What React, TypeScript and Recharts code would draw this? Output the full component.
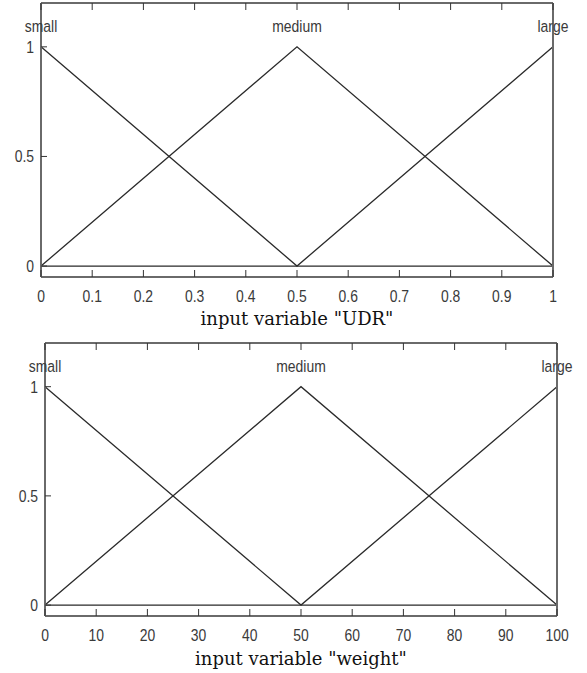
import React from 'react';
import { ComposedChart, Line, XAxis, YAxis } from 'recharts';

const udrX = [0, 0.5, 1];
const weightX = [0, 50, 100];
const small = [1, 0, 0];
const medium = [0, 1, 0];
const large = [0, 0, 1];
const mfNames = ['small', 'medium', 'large'];
const udrTicks = [0, 0.1, 0.2, 0.3, 0.4, 0.5, 0.6, 0.7, 0.8, 0.9, 1];
const weightTicks = [0, 10, 20, 30, 40, 50, 60, 70, 80, 90, 100];
const yTicks = [0, 0.5, 1];

const tickFont = '"Liberation Sans", Arial, sans-serif';
const tickColor = '#3a3a3a';
const frame = '#6a6a6a';

// narrow helvetica-like text, squeezed horizontally
const NarrowText = ({ x, y, anchor, children }: any) => (
  <text
    transform={`translate(${x},${y}) scale(0.82,1)`}
    textAnchor={anchor}
    fontSize={17}
    fontFamily={tickFont}
    fill={tickColor}
  >
    {children}
  </text>
);

const BottomTick = (props: any) => {
  const { x, y, payload } = props;
  return (
    <g>
      <line x1={x} x2={x} y1={y} y2={y - 7} stroke="#333" strokeWidth={1} />
      <NarrowText x={x} y={y + 25} anchor="middle">
        {String(payload.value)}
      </NarrowText>
    </g>
  );
};

const TopTick = (props: any) => {
  const { x, y } = props;
  return <line x1={x} x2={x} y1={y} y2={y + 7} stroke="#333" strokeWidth={1} />;
};

const LeftTick = (props: any) => {
  const { x, y, payload } = props;
  return (
    <g>
      <line x1={x} x2={x + 6} y1={y} y2={y} stroke="#333" strokeWidth={1} />
      <NarrowText x={x - 7} y={y + 6} anchor="end">
        {String(payload.value)}
      </NarrowText>
    </g>
  );
};

const RightTick = (props: any) => {
  const { x, y } = props;
  return <line x1={x} x2={x - 6} y1={y} y2={y} stroke="#333" strokeWidth={1} />;
};

const peakLabel = (name: string) => (props: any) => {
  const { x, y, value } = props;
  if (value !== 1) return <g />;
  return (
    <NarrowText x={x} y={y - 15} anchor="middle">
      {name}
    </NarrowText>
  );
};

interface PanelProps {
  xs: number[];
  ticks: number[];
  title: string;
  height: number;
  left: number;
  right: number;
  top: number;
  bottom: number;
  titleOffset: number;
}

const Panel = ({ xs, ticks, title, height, left, right, top, bottom, titleOffset }: PanelProps) => {
  const data = xs.map((x, i) => ({ x, small: small[i], medium: medium[i], large: large[i] }));
  const domain = [xs[0], xs[xs.length - 1]];
  return (
    <ComposedChart width={587} height={height} data={data} margin={{ top: 0, right: 0, left: 0, bottom: 0 }}>
      <XAxis
        dataKey="x"
        type="number"
        domain={domain}
        ticks={ticks}
        interval={0}
        height={bottom}
        tickSize={0}
        tickMargin={0}
        tickLine={false}
        tick={<BottomTick />}
        axisLine={{ stroke: frame, strokeWidth: 2 }}
        label={{
          value: title,
          position: 'insideBottom',
          offset: titleOffset,
          fontSize: 18,
          fontFamily: '"DejaVu Serif", "Liberation Serif", serif',
          fill: '#111',
        }}
      />
      <XAxis
        xAxisId="top"
        orientation="top"
        dataKey="x"
        type="number"
        domain={domain}
        ticks={ticks}
        interval={0}
        height={top}
        tickSize={0}
        tickMargin={0}
        tickLine={false}
        tick={<TopTick />}
        axisLine={{ stroke: frame, strokeWidth: 2 }}
      />
      <YAxis
        type="number"
        domain={[-0.05, 1.2]}
        ticks={yTicks}
        interval={0}
        width={left}
        tickSize={0}
        tickMargin={0}
        tickLine={false}
        tick={<LeftTick />}
        axisLine={{ stroke: frame, strokeWidth: 2 }}
      />
      <YAxis
        yAxisId="r"
        orientation="right"
        type="number"
        domain={[-0.05, 1.2]}
        ticks={yTicks}
        interval={0}
        width={right}
        tickSize={0}
        tickMargin={0}
        tickLine={false}
        tick={<RightTick />}
        axisLine={{ stroke: frame, strokeWidth: 2 }}
      />
      {mfNames.map((name) => (
        <Line
          key={name}
          dataKey={name}
          type="linear"
          stroke="#2a2a2a"
          strokeWidth={1.3}
          dot={false}
          activeDot={false}
          isAnimationActive={false}
          label={peakLabel(name)}
        />
      ))}
    </ComposedChart>
  );
};

export default function App() {
  return (
    <div style={{ position: 'absolute', left: 0, top: 0, width: 587, height: 673, background: '#fff' }}>
      <div style={{ position: 'absolute', left: 0, top: 0 }}>
        <Panel
          xs={udrX}
          ticks={udrTicks}
          title={'input variable "UDR"'}
          height={330}
          left={41}
          right={34}
          top={3}
          bottom={53}
          titleOffset={5}
        />
      </div>
      <div style={{ position: 'absolute', left: 0, top: 330 }}>
        <Panel
          xs={weightX}
          ticks={weightTicks}
          title={'input variable "weight"'}
          height={343}
          left={45}
          right={30}
          top={13}
          bottom={57}
          titleOffset={8}
        />
      </div>
    </div>
  );
}
